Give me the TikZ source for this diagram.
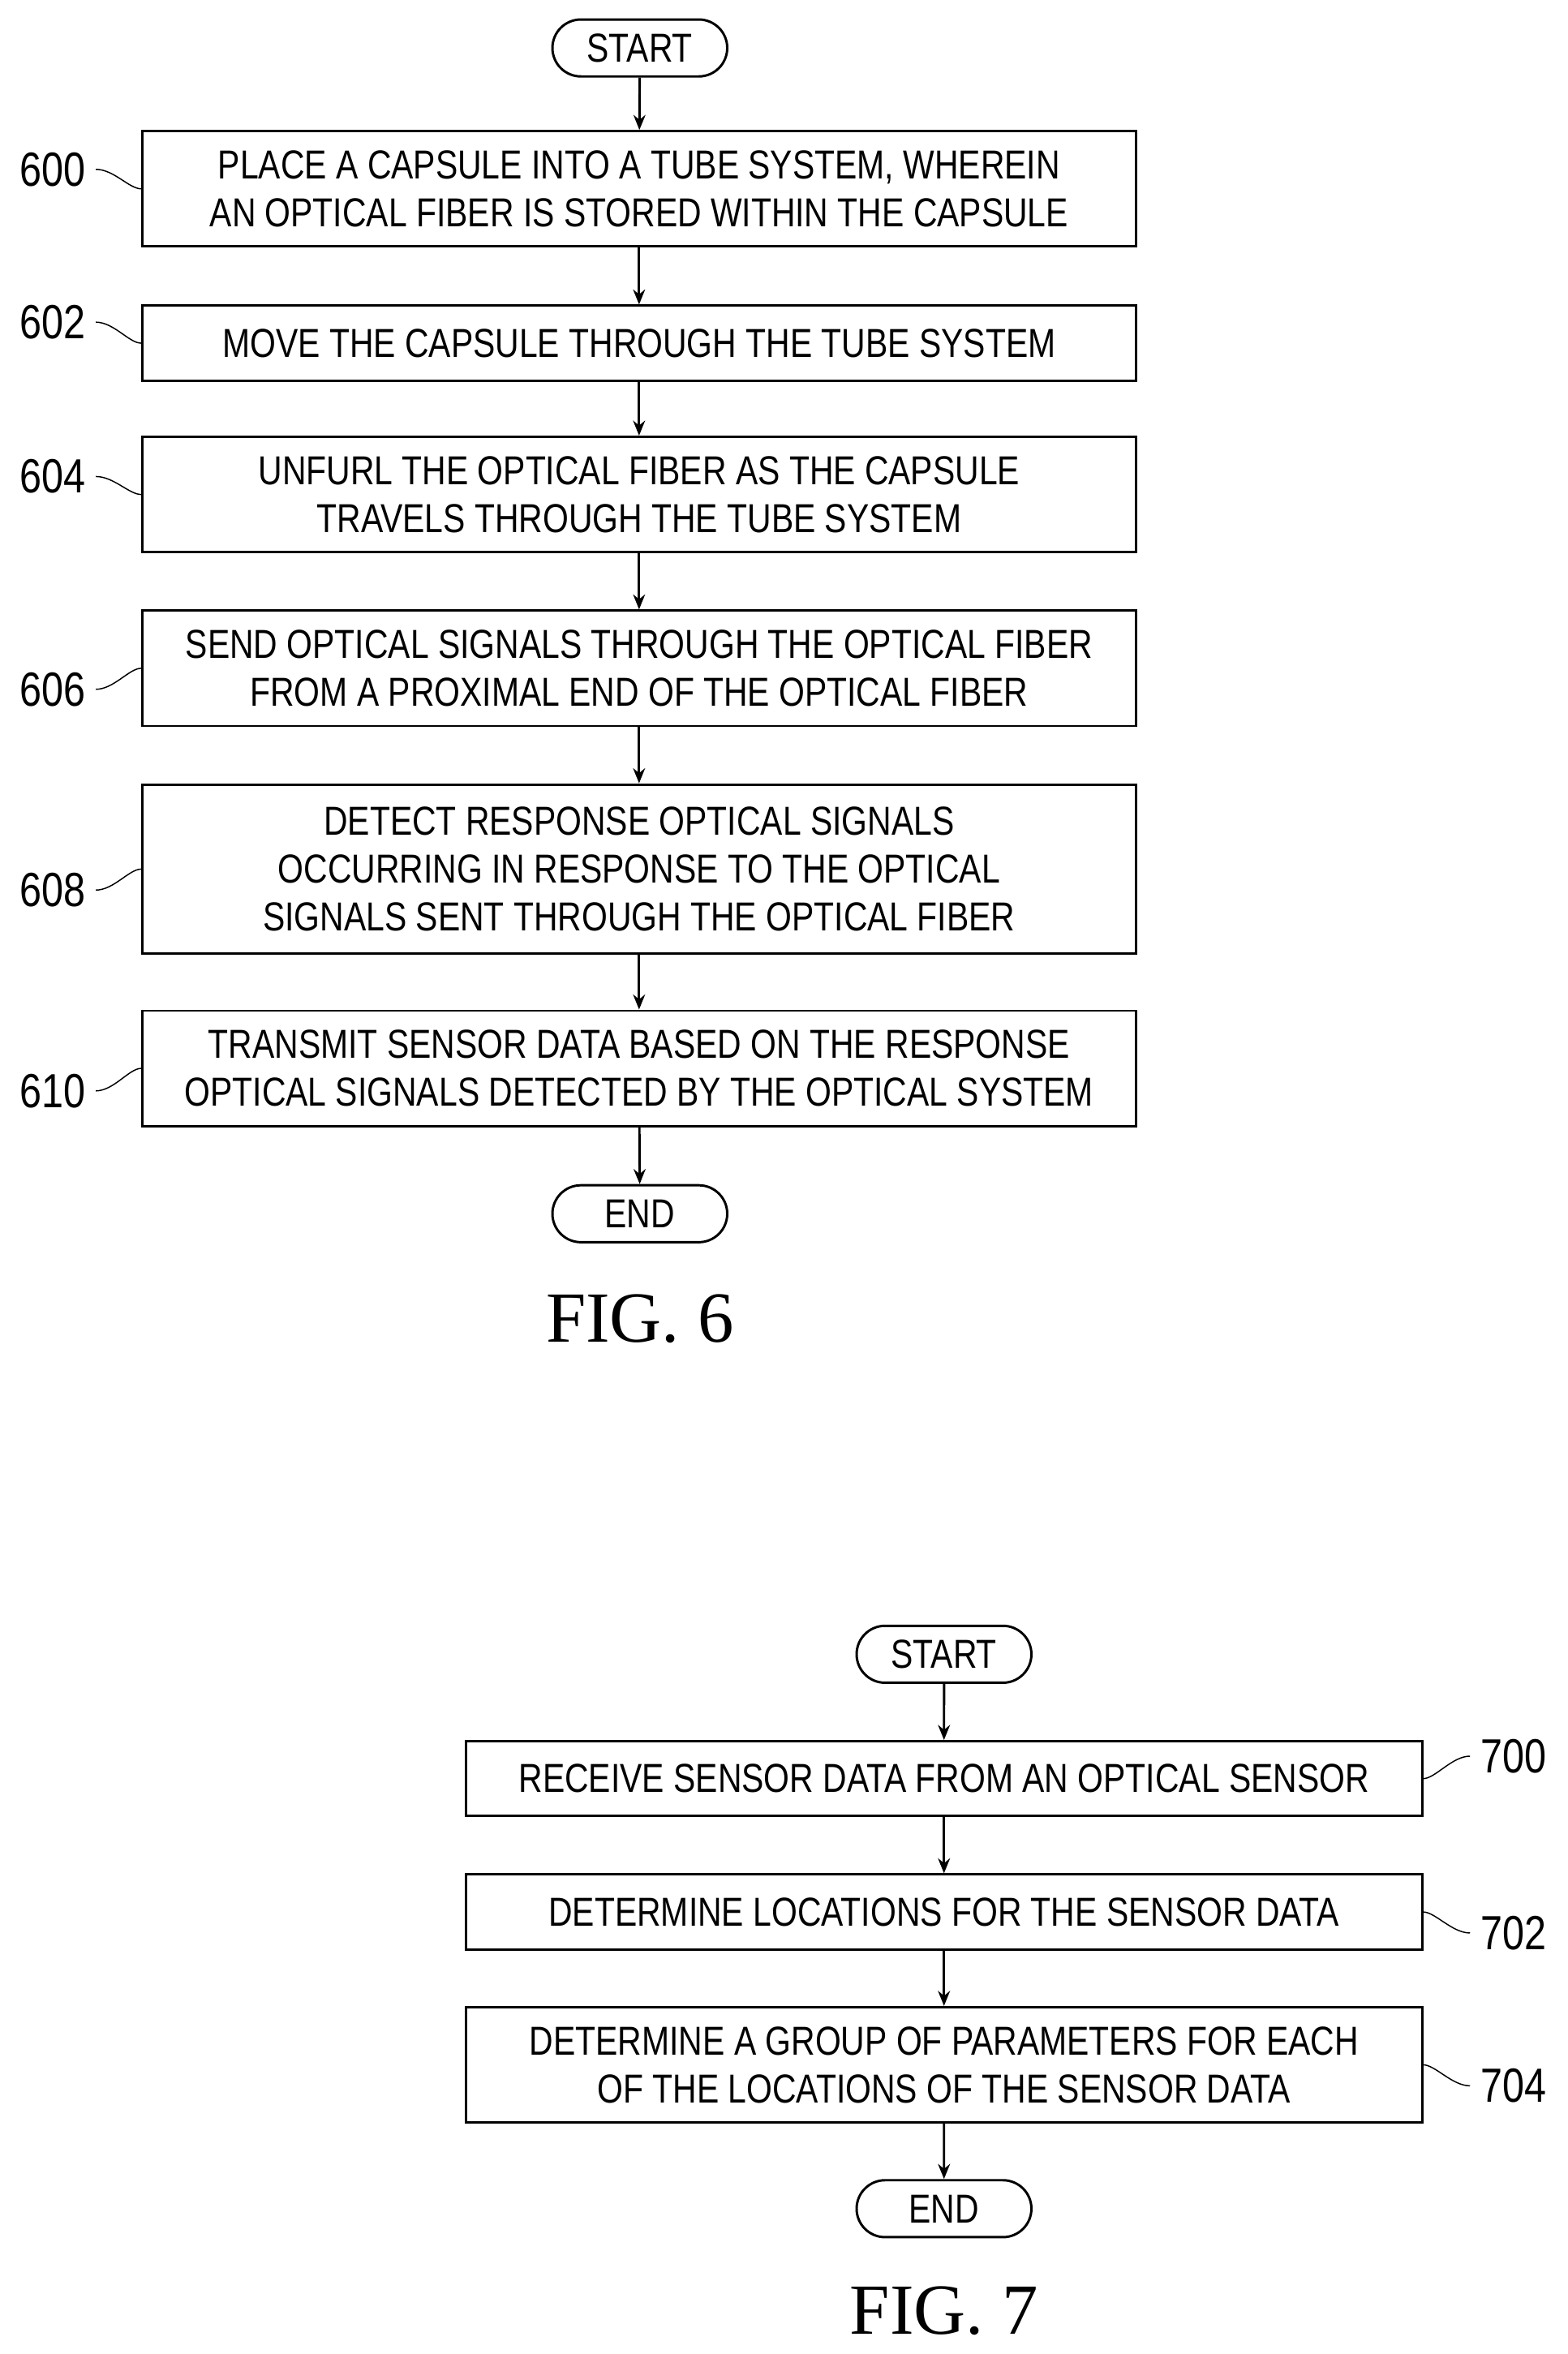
\documentclass[tikz,border=0pt]{standalone}
\usepackage{fontspec}
\setmainfont{Liberation Sans}[FakeStretch=0.82]
\newfontfamily\figfont{Liberation Serif}
\usetikzlibrary{arrows.meta, positioning, shapes.misc}

\begin{document}
\begin{tikzpicture}[x=0.5pt, y=-0.5pt,
		process/.style={
			rectangle,
			draw=black,
			thick,
			align=center,
			font=\fontsize{13.5}{16}\selectfont,
			inner sep=0pt
		},
		terminal/.style={
			rounded rectangle,
			draw=black,
			thick,
			minimum width=65pt,
			minimum height=19pt,
			font=\fontsize{13.5}{15}\selectfont
		},
		arrow/.style={
			thick,
			-{Stealth[length=5pt, width=4pt]},
		},
		ref/.style={font=\fontsize{16}{18}\selectfont},
		leader/.style={thin}
	]
	\useasboundingbox (0,0) rectangle (1046,1571);
	
	% FIG. 6
	\node[terminal] (S6) at (427,32) {START};
	\node[process, minimum width=331.5pt, minimum height=38.5pt] (B600) at (426.5,126) {PLACE A CAPSULE INTO A TUBE SYSTEM, WHEREIN\\AN OPTICAL FIBER IS STORED WITHIN THE CAPSULE};
	\node[process, minimum width=331.5pt, minimum height=25pt] (B602) at (426.5,229) {MOVE THE CAPSULE THROUGH THE TUBE SYSTEM};
	\node[process, minimum width=331.5pt, minimum height=38.5pt] (B604) at (426.5,330) {UNFURL THE OPTICAL FIBER AS THE CAPSULE\\TRAVELS THROUGH THE TUBE SYSTEM};
	\node[process, minimum width=331.5pt, minimum height=38.5pt] (B606) at (426.5,446) {SEND OPTICAL SIGNALS THROUGH THE OPTICAL FIBER\\FROM A PROXIMAL END OF THE OPTICAL FIBER};
	\node[process, minimum width=331.5pt, minimum height=56.5pt] (B608) at (426.5,580) {DETECT RESPONSE OPTICAL SIGNALS\\OCCURRING IN RESPONSE TO THE OPTICAL\\SIGNALS SENT THROUGH THE OPTICAL FIBER};
	\node[process, minimum width=331.5pt, minimum height=38.5pt] (B610) at (426.5,713) {TRANSMIT SENSOR DATA BASED ON THE RESPONSE\\OPTICAL SIGNALS DETECTED BY THE OPTICAL SYSTEM};
	\node[terminal] (E6) at (427,810) {END};
	\node[font=\figfont\fontsize{24}{26}\selectfont] (F6) at (427,880) {FIG. 6};
	
	\draw[arrow] (S6) -- (B600);
	\draw[arrow] (B600) -- (B602);
	\draw[arrow] (B602) -- (B604);
	\draw[arrow] (B604) -- (B606);
	\draw[arrow] (B606) -- (B608);
	\draw[arrow] (B608) -- (B610);
	\draw[arrow] (B610) -- (E6);
	
	\foreach \n/\y in {600/113, 602/215, 604/318, 606/460, 608/594, 610/728}{
		\node[ref] (L\n) at (35,\y) {\n};
		\draw[leader] (L\n.east) .. controls +(12,0) and +(-8,0) .. (B\n.west);
	}
	
	% FIG. 7
	\node[terminal] (S7) at (630,1104) {START};
	\node[process, minimum width=319pt, minimum height=25pt] (B700) at (630,1187) {RECEIVE SENSOR DATA FROM AN OPTICAL SENSOR};
	\node[process, minimum width=319pt, minimum height=25pt] (B702) at (630,1276) {DETERMINE LOCATIONS FOR THE SENSOR DATA};
	\node[process, minimum width=319pt, minimum height=38.5pt] (B704) at (630,1378) {DETERMINE A GROUP OF PARAMETERS FOR EACH\\OF THE LOCATIONS OF THE SENSOR DATA};
	\node[terminal] (E7) at (630,1474) {END};
	\node[font=\figfont\fontsize{24}{26}\selectfont] (F7) at (630,1542) {FIG. 7};
	
	\draw[arrow] (S7) -- (B700);
	\draw[arrow] (B700) -- (B702);
	\draw[arrow] (B702) -- (B704);
	\draw[arrow] (B704) -- (E7);
	
	\foreach \n/\y in {700/1172, 702/1290, 704/1392}{
		\node[ref] (L\n) at (1010,\y) {\n};
		\draw[leader] (L\n.west) .. controls +(-12,0) and +(8,0) .. (B\n.east);
	}
\end{tikzpicture}
\end{document}
